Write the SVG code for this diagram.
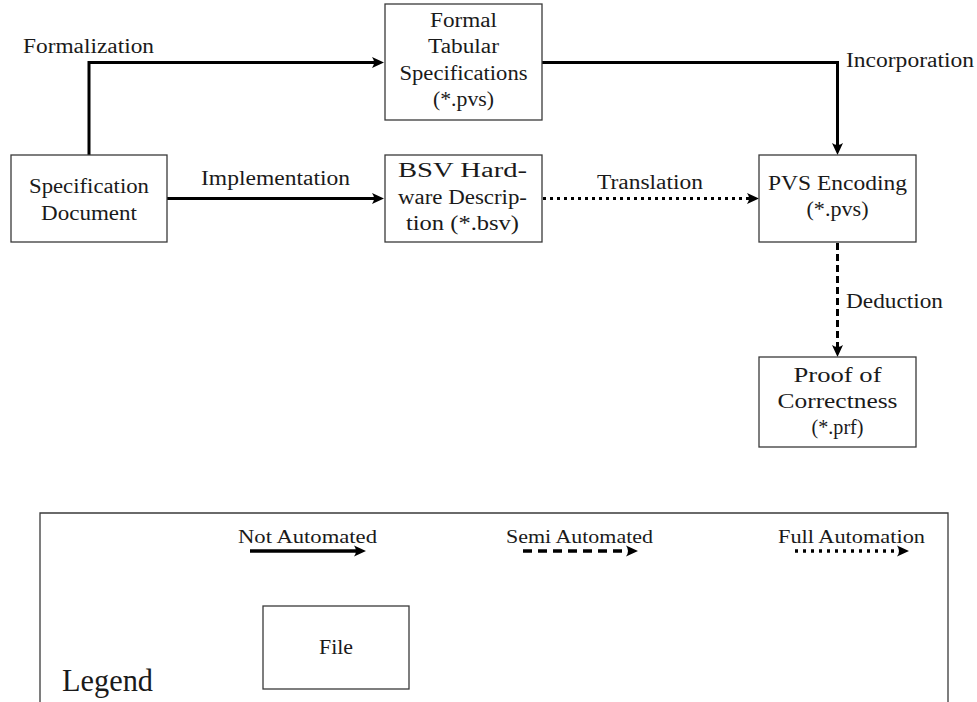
<svg xmlns="http://www.w3.org/2000/svg" width="977" height="702" viewBox="0 0 977 702">
  <style>
    .box { fill: #ffffff; stroke: #3a3a3a; stroke-width: 1.3; }
    .t { font-family: "Liberation Serif", "DejaVu Serif", serif; font-size: 20px; fill: #1a1a1a; }
    .c { text-anchor: middle; }
    .lt { font-family: "Liberation Serif", "DejaVu Serif", serif; font-size: 18px; fill: #1a1a1a; }
    .big { font-size: 31px; }
    .file { font-size: 20px; }
    .edge { fill: none; stroke: #000; stroke-width: 3; }
    .dash { stroke-dasharray: 7 4; }
    .dot { stroke-dasharray: 3 4; }
    .leg { fill: none; stroke: #000; stroke-width: 3.5; }
    .ldash { stroke-dasharray: 9 6; }
    .ldot { stroke-dasharray: 3 5; }
  </style>
  <defs>
    <marker id="head" viewBox="0 -6 13 12" markerWidth="13" markerHeight="12" refX="4" refY="0" orient="auto" markerUnits="userSpaceOnUse">
      <path d="M12,0 L0,-5.5 Q4,0 0,5.5 Z" fill="#000"/>
    </marker>
  </defs>

  <!-- connectors -->
  <g id="connectors">
    <path class="edge" d="M89,155 V62.5 H376" marker-end="url(#head)"/>
    <text class="t c" x="88.5" y="53" textLength="131" lengthAdjust="spacingAndGlyphs">Formalization</text>

    <path class="edge" d="M167,198.5 H376" marker-end="url(#head)"/>
    <text class="t c" x="275.5" y="185" textLength="149" lengthAdjust="spacingAndGlyphs">Implementation</text>

    <path class="edge dot" d="M543,198.5 H751" marker-end="url(#head)"/>
    <text class="t c" x="650" y="189" textLength="106" lengthAdjust="spacingAndGlyphs">Translation</text>

    <path class="edge" d="M542,62.5 H837.5 V147" marker-end="url(#head)"/>
    <text class="t" x="846" y="67" textLength="128" lengthAdjust="spacingAndGlyphs">Incorporation</text>

    <path class="edge dash" d="M837.5,243 V349" marker-end="url(#head)"/>
    <text class="t" x="846" y="308" textLength="97" lengthAdjust="spacingAndGlyphs">Deduction</text>
  </g>

  <!-- nodes -->
  <g id="spec-doc">
    <rect class="box" x="11" y="155" width="156" height="87"/>
    <text class="t c" x="89" y="193" textLength="120" lengthAdjust="spacingAndGlyphs">Specification</text>
    <text class="t c" x="89" y="220" textLength="96" lengthAdjust="spacingAndGlyphs">Document</text>
  </g>

  <g id="formal-tabular">
    <rect class="box" x="385" y="4" width="157" height="116"/>
    <text class="t c" x="463.5" y="27" textLength="67" lengthAdjust="spacingAndGlyphs">Formal</text>
    <text class="t c" x="463.5" y="53" textLength="71" lengthAdjust="spacingAndGlyphs">Tabular</text>
    <text class="t c" x="463.5" y="80" textLength="128" lengthAdjust="spacingAndGlyphs">Specifications</text>
    <text class="t c" x="463.5" y="106" textLength="61" lengthAdjust="spacingAndGlyphs">(*.pvs)</text>
  </g>

  <g id="bsv-hw">
    <rect class="box" x="385" y="155" width="157" height="87"/>
    <text class="t c" x="462.5" y="177" textLength="129" lengthAdjust="spacingAndGlyphs">BSV Hard-</text>
    <text class="t c" x="462.5" y="204" textLength="129" lengthAdjust="spacingAndGlyphs">ware Descrip-</text>
    <text class="t c" x="462.5" y="230" textLength="113" lengthAdjust="spacingAndGlyphs">tion (*.bsv)</text>
  </g>

  <g id="pvs-encoding">
    <rect class="box" x="759" y="155" width="157" height="87"/>
    <text class="t c" x="837.5" y="190" textLength="139" lengthAdjust="spacingAndGlyphs">PVS Encoding</text>
    <text class="t c" x="837.5" y="216" textLength="62" lengthAdjust="spacingAndGlyphs">(*.pvs)</text>
  </g>

  <g id="proof">
    <rect class="box" x="759" y="357" width="157" height="90"/>
    <text class="t c" x="837.5" y="382" textLength="88" lengthAdjust="spacingAndGlyphs">Proof of</text>
    <text class="t c" x="837.5" y="408" textLength="120" lengthAdjust="spacingAndGlyphs">Correctness</text>
    <text class="t c" x="837.5" y="434" textLength="52" lengthAdjust="spacingAndGlyphs">(*.prf)</text>
  </g>

  <!-- legend panel -->
  <g id="legend">
    <path d="M40,702 V513 H948 V702" fill="none" stroke="#3a3a3a" stroke-width="1.3"/>

    <text class="lt" x="238" y="543" textLength="139" lengthAdjust="spacingAndGlyphs">Not Automated</text>
    <path class="leg" d="M250,551 H358" marker-end="url(#head)"/>

    <text class="lt" x="506" y="543" textLength="147" lengthAdjust="spacingAndGlyphs">Semi Automated</text>
    <path class="leg ldash" d="M523,551 H630" marker-end="url(#head)"/>

    <text class="lt" x="778" y="543" textLength="147" lengthAdjust="spacingAndGlyphs">Full Automation</text>
    <path class="leg ldot" d="M795,551 H901" marker-end="url(#head)"/>

    <rect class="box" x="263" y="606" width="146" height="83"/>
    <text class="lt c file" x="336" y="654" textLength="34" lengthAdjust="spacingAndGlyphs">File</text>

    <text class="t big" x="62" y="691" textLength="91" lengthAdjust="spacingAndGlyphs">Legend</text>
  </g>
</svg>
